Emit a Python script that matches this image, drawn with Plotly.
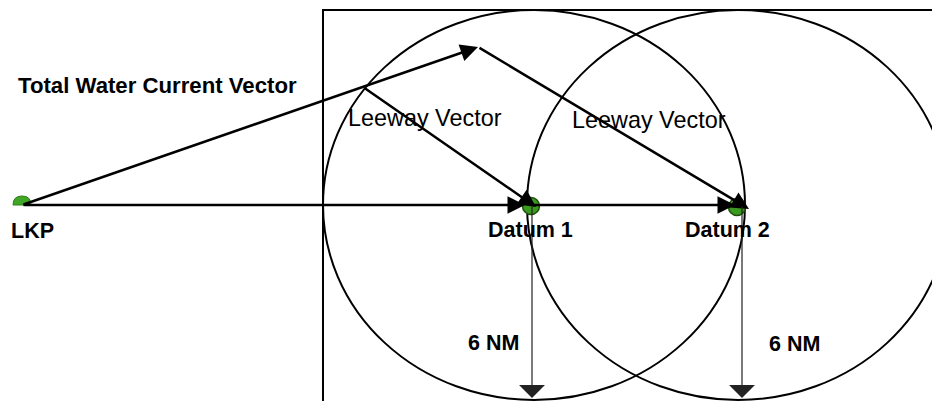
import plotly.graph_objects as go

W, H = 932, 401

# Diagram coordinates (pixel-like space, y grows downward)
dot_names = ["LKP", "Datum 1", "Datum 2"]
dot_x = [22, 531, 737]
dot_y = [204, 206, 207]

# Vectors: (tail_x, tail_y, tip_x, tip_y)
vec_names = ["Total Water Current", "Leeway 1", "Leeway 2", "Drift 1", "Drift 2"]
vec_tail_x = [22, 363, 478, 22, 532]
vec_tail_y = [205, 87, 47, 205, 205]
vec_tip_x = [478, 536, 749, 525, 735]
vec_tip_y = [47, 207, 209, 205, 205]

# 6 NM radius arrows
rad_x = [532, 742]
rad_y0 = [205, 205]
rad_y1 = [398, 398]

# Circles around datums (6 NM search radius)
circ_cx = [534, 738]
circ_cy = [205, 205]
circ_rx = [211, 211]
circ_ry = [195, 195]

# Search-area rectangle
rect_x0, rect_y0, rect_x1, rect_y1 = 323, 10, 945, 420

# Labels
label_text = ["<b>Total Water Current Vector</b>", "<b>LKP</b>", "Leeway Vector",
              "Leeway Vector", "<b>Datum 1</b>", "<b>Datum 2</b>", "<b>6 NM</b>", "<b>6 NM</b>"]
label_x = [16, 9, 346, 570, 486, 683, 466, 767]
label_y = [85, 231, 118, 120, 230, 230, 343, 344]
label_size = [22.2, 21.5, 23.4, 23.4, 21.5, 21.5, 21.5, 21.5]

fig = go.Figure()

shapes = []
shapes.append(dict(type="rect", x0=rect_x0, y0=rect_y0, x1=rect_x1, y1=rect_y1,
                   line=dict(color="black", width=2), layer="below"))
for cx, cy, rx, ry in zip(circ_cx, circ_cy, circ_rx, circ_ry):
    shapes.append(dict(type="circle", x0=cx - rx, x1=cx + rx, y0=cy - ry, y1=cy + ry,
                       line=dict(color="black", width=2), layer="below"))

# LKP half-dot
lx, ly = dot_x[0], dot_y[0]
shapes.append(dict(type="path",
                   path=f"M {lx-9},{ly+1} Q {lx-9},{ly-8} {lx},{ly-8} Q {lx+9},{ly-8} {lx+9},{ly+1} Z",
                   fillcolor="#3fa626", line=dict(color="#2f7d18", width=1), layer="below"))

fig.update_layout(shapes=shapes)

# Datum dots
fig.add_trace(go.Scatter(
    x=dot_x[1:], y=dot_y[1:], mode="markers",
    marker=dict(size=17, color="#3a9a1f", line=dict(color="#1f4f0c", width=1.5)),
    hoverinfo="skip", showlegend=False))

annotations = []
for tx, ty, hx, hy in zip(vec_tail_x, vec_tail_y, vec_tip_x, vec_tip_y):
    annotations.append(dict(x=hx, y=hy, ax=tx, ay=ty, xref="x", yref="y", axref="x", ayref="y",
                            text="", showarrow=True, arrowhead=2, arrowsize=1.4,
                            arrowwidth=2.5, arrowcolor="black", standoff=0))
for rx_, y0, y1 in zip(rad_x, rad_y0, rad_y1):
    annotations.append(dict(x=rx_, y=y1, ax=rx_, ay=y0, xref="x", yref="y", axref="x", ayref="y",
                            text="", showarrow=True, arrowhead=1, arrowsize=3.6,
                            arrowwidth=1.2, arrowcolor="#222222", standoff=0))
for t, x, y, s in zip(label_text, label_x, label_y, label_size):
    annotations.append(dict(x=x, y=y, xref="x", yref="y", text=t, showarrow=False,
                            xanchor="left", yanchor="middle",
                            font=dict(family="Liberation Sans, Arial, sans-serif", size=s, color="black")))
fig.update_layout(annotations=annotations)

fig.update_layout(
    width=W, height=H,
    margin=dict(l=0, r=0, t=0, b=0),
    paper_bgcolor="white", plot_bgcolor="white",
    xaxis=dict(range=[0, W], visible=False, fixedrange=True),
    yaxis=dict(range=[H, 0], visible=False, fixedrange=True),
    showlegend=False,
)

fig.write_html("out.html", config={"displayModeBar": False},
               post_script="document.body.style.margin='0';document.body.style.overflow='hidden';")
